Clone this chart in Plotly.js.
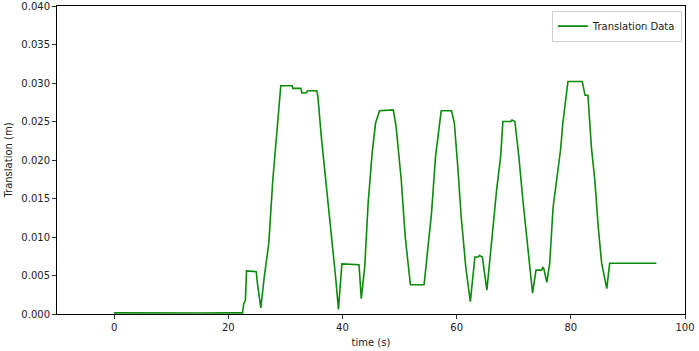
<!DOCTYPE html>
<html>
<head>
<meta charset="utf-8">
<script src="https://cdn.plot.ly/plotly-3.0.1.min.js"></script>
<style>html,body{margin:0;padding:0;background:#fff;}#chart{width:699px;height:351px;}</style>
</head>
<body>
<div id="chart"></div>
<script>
// time (s)
const timeS = [0, 5, 10, 15, 20, 22.5, 22.7, 23.0, 23.2, 24.9, 25.1, 25.7, 26.3, 27.1, 27.8, 28.4, 28.8, 29.2,
  31.2, 31.3, 32.7, 32.9, 33.6, 33.9, 35.5, 35.7, 36.3, 37.1, 38.0, 38.8, 39.3, 39.9, 42.9, 43.3, 43.9, 44.5,
  45.2, 45.8, 46.5, 48.9, 49.4, 50.3, 51.0, 51.6, 51.9, 54.3, 54.8, 55.6, 56.3, 57.0, 57.3, 59.1, 59.6, 60.2,
  60.8, 61.6, 62.4, 63.2, 63.8, 64.0, 64.5, 65.3, 66.1, 67.0, 67.7, 68.1, 69.5, 69.7, 70.2, 70.9, 71.6, 72.3,
  72.8, 73.3, 73.9, 74.9, 75.1, 75.3, 75.8, 76.3, 76.9, 77.6, 78.2, 78.6, 79.1, 79.5, 82.0, 82.5, 83.0, 83.6,
  84.2, 84.8, 85.4, 86.3, 86.8, 90.0, 95.0];
// translation (m)
const translationM = [0.00015, 0.00012, 0.00016, 0.00013, 0.00015, 0.00015, 0.0013, 0.0018, 0.0056, 0.0055, 0.0040, 0.0008, 0.0048, 0.0092, 0.0174, 0.0230, 0.0269, 0.02965,
  0.02965, 0.0293, 0.0293, 0.0287, 0.0287, 0.0290, 0.0290, 0.0282, 0.0230, 0.0174, 0.0109, 0.0048, 0.0006, 0.0065, 0.0064, 0.0020, 0.0061, 0.0144,
  0.0209, 0.0248, 0.0264, 0.0265, 0.0243, 0.0174, 0.0100, 0.0055, 0.0038, 0.0038, 0.0074, 0.0131, 0.0204, 0.0248, 0.0264, 0.0264, 0.0248, 0.0191,
  0.0126, 0.0061, 0.0016, 0.0074, 0.0074, 0.0076, 0.0074, 0.0031, 0.0096, 0.0161, 0.0204, 0.0250, 0.0250, 0.0252, 0.0250, 0.0204, 0.0148, 0.0096,
  0.0057, 0.0027, 0.0057, 0.0057, 0.0061, 0.0058, 0.0041, 0.0066, 0.0139, 0.0178, 0.0213, 0.0248, 0.0278, 0.0302, 0.0302, 0.0284, 0.0284, 0.0217,
  0.0174, 0.0113, 0.0066, 0.0033, 0.0066, 0.0066, 0.0066];
const xTicks = [0, 20, 40, 60, 80, 100];
const yTicks = [0.000, 0.005, 0.010, 0.015, 0.020, 0.025, 0.030, 0.035, 0.040];

const axisCommon = {
  showgrid: false, zeroline: false, showline: true, mirror: true,
  linecolor: '#000', linewidth: 1, ticks: 'outside', ticklen: 4, tickwidth: 1, tickcolor: '#333',
  tickfont: {family: 'DejaVu Sans', size: 10, color: '#222'}
};
const layout = {
  width: 699, height: 351,
  margin: {l: 57, r: 14, t: 6, b: 37},
  paper_bgcolor: '#fff', plot_bgcolor: '#fff',
  font: {family: 'DejaVu Sans', size: 10, color: '#222'},
  xaxis: Object.assign({}, axisCommon, {
    range: [-10, 100], tickvals: xTicks, ticktext: xTicks.map(String),
    title: {text: 'time (s)', font: {family: 'DejaVu Sans', size: 10, color: '#222'}, standoff: 6}
  }),
  yaxis: Object.assign({}, axisCommon, {
    range: [0, 0.04], tickvals: yTicks, ticktext: yTicks.map(v => v.toFixed(3)),
    title: {text: 'Translation (m)', font: {family: 'DejaVu Sans', size: 10, color: '#222'}, standoff: 6}
  }),
  showlegend: true,
  legend: {
    x: 0.995, y: 0.985, xanchor: 'right', yanchor: 'top',
    bgcolor: 'rgba(255,255,255,0.8)', bordercolor: '#d0d0d0', borderwidth: 1,
    font: {family: 'DejaVu Sans', size: 10, color: '#222'}
  }
};
Plotly.newPlot('chart', [{
  x: timeS, y: translationM, type: 'scatter', mode: 'lines', name: 'Translation Data',
  line: {color: '#0c8a0c', width: 1.6}
}], layout, {staticPlot: true, displayModeBar: false});
</script>
</body>
</html>
